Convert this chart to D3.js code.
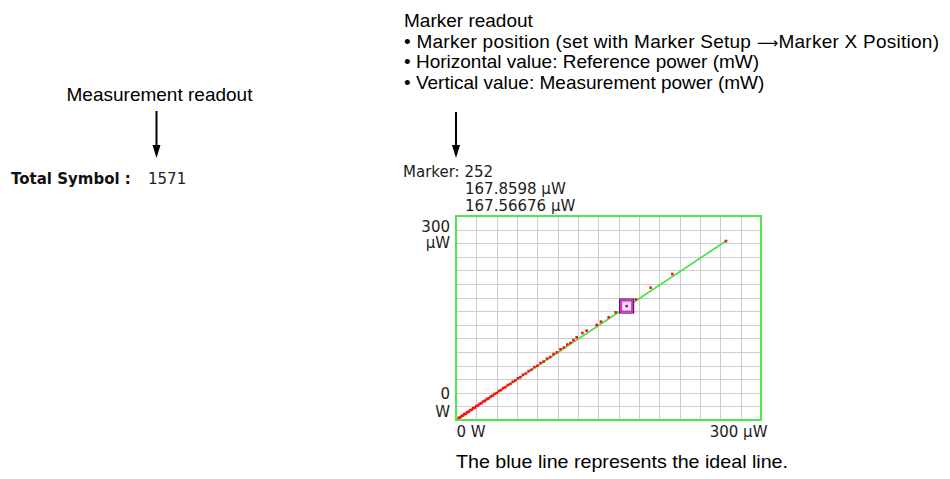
<!DOCTYPE html>
<html>
<head>
<meta charset="utf-8">
<script src="https://cdn.jsdelivr.net/npm/d3@7"></script>
<style>
  html, body { margin: 0; padding: 0; background: #fff; }
  svg { display: block; }
</style>
</head>
<body>
<svg id="chart" width="950" height="479"></svg>
<script>
// ---------------- data ----------------
// Reference power (horizontal) and measured power (vertical), in µW
const refPower = [0.6, 1.8, 3.0, 4.3, 5.5, 6.9, 8.2, 9.6, 11.0, 12.4, 13.9, 15.4, 17.0, 18.5, 20.1,
  21.8, 23.4, 25.1, 26.9, 28.7, 30.4, 32.3, 34.2, 36.1, 38.0, 40.1, 42.2, 44.3, 46.5, 48.7,
  51.0, 53.4, 55.8, 58.3, 60.8, 63.3, 65.9, 68.6, 71.4, 74.2, 77.1, 80.0, 83.1, 86.2, 89.5,
  92.6, 95.9, 99.2, 102.8, 106.1, 109.5, 112.6, 115.4, 118.7, 124.3, 128.5, 138.4, 142.6,
  150.2, 157.1, 167.8598, 177.0, 191.5, 212.8, 265.6];
const measPower = [0.9, 1.5, 3.4, 4.0, 5.9, 6.6, 8.6, 9.3, 11.4, 12.1, 14.3, 15.1, 17.4, 18.2, 20.6,
  21.4, 23.9, 24.8, 27.3, 28.4, 30.9, 32.0, 34.7, 35.8, 38.5, 39.8, 42.7, 44.0, 47.0, 48.4,
  51.5, 53.1, 56.3, 58.0, 61.4, 63.0, 66.5, 68.3, 72.0, 73.9, 77.8, 79.7, 83.8, 86.0, 90.3,
  92.5, 96.9, 99.4, 104.1, 106.5, 111.0, 113.4, 117.6, 121.6, 127.9, 131.4, 139.7, 144.6,
  151.0, 158.3, 167.56676, 177.4, 194.6, 214.7, 263.2];
// Green trace
const traceRef  = [0, 265.6];
const traceMeas = [0, 263.2];

const markerIndex = 252;
const markerRef = 167.8598;
const markerMeas = 167.56676;
const totalSymbol = 1571;

const axisMax = 300;
const xTickValues = [0, 300];
const xTickLabels = ["0 W", "300 µW"];
const yTickValues = [300, 0];
const yTickLabels = [["300", "µW"], ["0", "W"]];

const markerNotes = [
  ["Marker readout"],
  ["• Marker position (set with Marker Setup ", "\u27F6", "Marker X Position)"],
  ["• Horizontal value: Reference power (mW)"],
  ["• Vertical value: Measurement power (mW)"]
];
const measureNote = "Measurement readout";
const footNote = "The blue line represents the ideal line.";

// ---------------- drawing ----------------
const svg = d3.select("#chart");
svg.append("rect").attr("width", 950).attr("height", 479).attr("fill", "#fff");

const L = 456, R = 761, T = 216, B = 420;
const x = d3.scaleLinear().domain([0, axisMax]).range([L, R]);
const y = d3.scaleLinear().domain([0, axisMax]).range([B, T]);

const chartFont = "'DejaVu Sans', Verdana, sans-serif";
const noteFont = "'Liberation Sans', Arial, Helvetica, sans-serif";

// grid
const g = svg.append("g");
g.selectAll("line.vx").data(x.ticks(10).slice(1, -1)).join("line")
  .attr("x1", d => Math.round(x(d)) + 0.5).attr("x2", d => Math.round(x(d)) + 0.5)
  .attr("y1", T).attr("y2", B).attr("stroke", "#cdcdcd").attr("stroke-width", 1);
g.selectAll("line.hy").data(y.ticks(10).slice(1, -1)).join("line")
  .attr("y1", d => Math.round(y(d)) + 0.5).attr("y2", d => Math.round(y(d)) + 0.5)
  .attr("x1", L).attr("x2", R).attr("stroke", "#cdcdcd").attr("stroke-width", 1);

// green trace
const line = d3.line().x(d => x(d[0])).y(d => y(d[1]));
svg.append("path")
  .datum(d3.zip(traceRef, traceMeas))
  .attr("d", line).attr("fill", "none")
  .attr("stroke", "#3fe23f").attr("stroke-width", 1.6);

// red points
svg.append("g").selectAll("rect").data(d3.zip(refPower, measPower)).join("rect")
  .attr("x", d => x(d[0]) - 1.3).attr("y", d => y(d[1]) - 1.3)
  .attr("width", 2.6).attr("height", 2.6).attr("fill", "#ff1010");

// border
svg.append("rect").attr("x", L).attr("y", T).attr("width", R - L).attr("height", B - T)
  .attr("fill", "none").attr("stroke", "#4de84d").attr("stroke-width", 2);

// marker
const mx = x(markerRef), my = y(markerMeas);
svg.append("rect").attr("x", mx - 7).attr("y", my - 7).attr("width", 14).attr("height", 14)
  .attr("fill", "#f7e2f7").attr("stroke", "#111").attr("stroke-width", 1);
svg.append("rect").attr("x", mx - 5.5).attr("y", my - 5.5).attr("width", 11).attr("height", 11)
  .attr("fill", "none").attr("stroke", "#e21ee2").attr("stroke-width", 2);
svg.append("rect").attr("x", mx - 1.2).attr("y", my - 1.2).attr("width", 2.4).attr("height", 2.4)
  .attr("fill", "#552255");

// x axis labels via d3 axis
const xAxis = d3.axisBottom(x).tickValues(xTickValues)
  .tickFormat((d, i) => xTickLabels[i]).tickSize(0).tickPadding(0);
const xg = svg.append("g").attr("transform", `translate(0,${B})`).call(xAxis);
xg.select(".domain").remove();
xg.selectAll("text")
  .attr("font-family", chartFont).attr("font-size", 15).attr("fill", "#1c1c1c")
  .attr("dy", null).attr("y", 17)
  .attr("text-anchor", (d, i) => i === 0 ? "start" : "end")
  .attr("dx", (d, i) => i === 0 ? 0 : 6);

// y axis labels via d3 axis (two-line labels)
const yAxis = d3.axisLeft(y).tickValues(yTickValues).tickFormat(() => "").tickSize(0);
const yg = svg.append("g").attr("transform", `translate(${L - 6},0)`).call(yAxis);
yg.select(".domain").remove();
yg.selectAll(".tick text").each(function(d, i) {
  const t = d3.select(this)
    .attr("font-family", chartFont).attr("font-size", 15).attr("fill", "#1c1c1c")
    .attr("text-anchor", "end").attr("x", 0).attr("dy", null);
  const lines = yTickLabels[i];
  const base = i === 0 ? [15, 31.5] : [-21.7, -3.3];
  t.text(null);
  lines.forEach((s, k) => t.append("tspan").attr("x", 0).attr("y", base[k]).text(s));
});

// marker readout text
const ro = svg.append("g").attr("font-family", chartFont).attr("font-size", 15).attr("fill", "#1c1c1c");
ro.append("text").attr("x", 403).attr("y", 176.7).text(`Marker: ${markerIndex}`);
ro.append("text").attr("x", 465).attr("y", 194).text(`${markerRef} µW`);
ro.append("text").attr("x", 465).attr("y", 210.7).text(`${markerMeas} µW`);

// measurement readout
const mr = svg.append("g");
mr.append("text").attr("x", 11).attr("y", 184)
  .attr("font-family", chartFont).attr("font-size", 15).attr("font-weight", "bold")
  .attr("fill", "#111").text("Total Symbol :");
mr.append("text").attr("x", 148).attr("y", 184)
  .attr("font-family", chartFont).attr("font-size", 15).attr("fill", "#222").text(totalSymbol);

// annotations
const notes = svg.append("g").attr("font-family", noteFont).attr("font-size", 19).attr("fill", "#000");
notes.append("text").attr("x", 159.5).attr("y", 101).attr("text-anchor", "middle").text(measureNote);
markerNotes.forEach((parts, i) => {
  const t = notes.append("text").attr("x", 404).attr("y", 27 + i * 20.5);
  parts.forEach((s, k) => {
    const ts = t.append("tspan").text(s);
    if (k === 1) ts.attr("font-family", "'DejaVu Sans', sans-serif").attr("font-size", 15);
  });
  if (parts.length > 1) t.attr("textLength", 535).attr("lengthAdjust", "spacing");
});
notes.append("text").attr("x", 456).attr("y", 468)
  .attr("textLength", 332).attr("lengthAdjust", "spacingAndGlyphs").text(footNote);

// arrows
function arrow(ax, y0, y1) {
  svg.append("line").attr("x1", ax).attr("x2", ax).attr("y1", y0).attr("y2", y1 - 10)
    .attr("stroke", "#000").attr("stroke-width", 2);
  svg.append("path")
    .attr("d", `M${ax - 4},${y1 - 13} L${ax + 4},${y1 - 13} L${ax},${y1} Z`)
    .attr("fill", "#000");
}
arrow(156.5, 111, 158);
arrow(456, 112, 158);
</script>
</body>
</html>
